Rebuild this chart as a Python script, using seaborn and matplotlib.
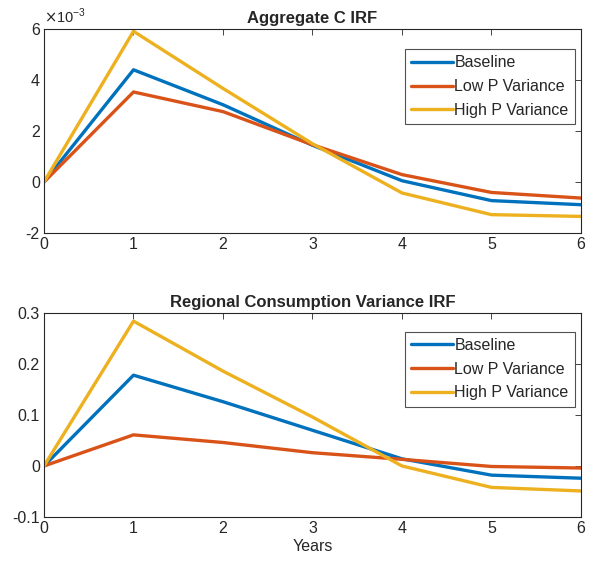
import numpy as np
import pandas as pd
import matplotlib
matplotlib.use('Agg')
import matplotlib.pyplot as plt
import seaborn as sns

# ------------- Data --------------------
years = [0, 1, 2, 3, 4, 5, 6]
series_names = ['Baseline', 'Low P Variance', 'High P Variance']

# aggregate consumption IRF (units of 1e-3)
aggC_base = [0.0, 4.40, 3.03, 1.44, 0.05, -0.73, -0.89]
aggC_low = [0.0, 3.53, 2.76, 1.46, 0.29, -0.41, -0.63]
aggC_high = [0.0, 5.91, 3.67, 1.50, -0.43, -1.28, -1.35]
aggC_ticks = [-2, 0, 2, 4, 6]

# regional consumption variance IRF
regV_base = [0.0, 0.178, 0.126, 0.070, 0.014, -0.018, -0.024]
regV_low = [0.0, 0.061, 0.046, 0.026, 0.013, -0.001, -0.004]
regV_high = [0.0, 0.284, 0.186, 0.096, 0.0, -0.042, -0.049]
regV_ticks = [-0.1, 0, 0.1, 0.2, 0.3]
regV_ticklabels = ['-0.1', '0', '0.1', '0.2', '0.3']

matlab_cols = ['#0072BD', '#D95319', '#EDB120']

sns.set_style('white')
plt.rcParams['font.family'] = ['Liberation Sans', 'DejaVu Sans']
plt.rcParams['xtick.direction'] = 'in'
plt.rcParams['ytick.direction'] = 'in'
plt.rcParams['axes.unicode_minus'] = False


def make_df(vals, scale=1.0):
    rows = []
    for name, v in zip(series_names, vals):
        for t, y in zip(years, v):
            rows.append({'Year': t, 'value': y * scale, 'series': name})
    return pd.DataFrame(rows)


df_top = make_df([aggC_base, aggC_low, aggC_high], 1e-3)
df_bot = make_df([regV_base, regV_low, regV_high])

fig = plt.figure(figsize=(6.01, 5.65), dpi=100)
ax1 = fig.add_axes([0.0732, 0.5876, 0.8935, 0.3611])
ax2 = fig.add_axes([0.0732, 0.085, 0.8935, 0.3611])

edge = '#262626'
for ax, df, title, ltop in [(ax1, df_top, 'Aggregate C IRF', 0.902),
                            (ax2, df_bot, 'Regional Consumption Variance IRF', 0.909)]:
    sns.lineplot(data=df, x='Year', y='value', hue='series',
                 palette=matlab_cols, linewidth=2.4, ax=ax)
    ax.set_xlim(0, 6)
    ax.set_xticks(years)
    ax.set_title(title, fontsize=12, fontweight='bold', pad=4)
    ax.set_xlabel('')
    ax.set_ylabel('')
    for s in ax.spines.values():
        s.set_color(edge)
        s.set_linewidth(0.8)
    ax.tick_params(axis='both', colors=edge, labelcolor=edge, labelsize=11.5,
                   length=4, width=0.6, top=True, right=True, pad=3)
    leg = ax.legend(loc='upper right', bbox_to_anchor=(0.989, ltop), fontsize=11.5,
                    frameon=True, fancybox=False, edgecolor=edge,
                    handlelength=2.6, handletextpad=0.1, borderpad=0.4,
                    labelspacing=0.55, borderaxespad=0)
    leg.get_frame().set_linewidth(0.8)
    for ln in leg.get_lines():
        ln.set_linewidth(2.4)

# top panel: values scaled by 1e-3, with the MATLAB-style exponent label
ax1.set_ylim(-2e-3, 6e-3)
ax1.set_yticks([t * 1e-3 for t in aggC_ticks])
ax1.set_yticklabels([str(t) for t in aggC_ticks])
ax1.text(0.0, 1.015, r'$\times$10$^{\mathregular{-3}}$', transform=ax1.transAxes,
         fontsize=10.5, color=edge, ha='left', va='bottom')

ax2.set_ylim(-0.1, 0.3)
ax2.set_yticks(regV_ticks)
ax2.set_yticklabels(regV_ticklabels)
ax2.set_xlabel('Years', fontsize=11.5, color=edge, labelpad=2)

fig.savefig('out.png', dpi=100)
